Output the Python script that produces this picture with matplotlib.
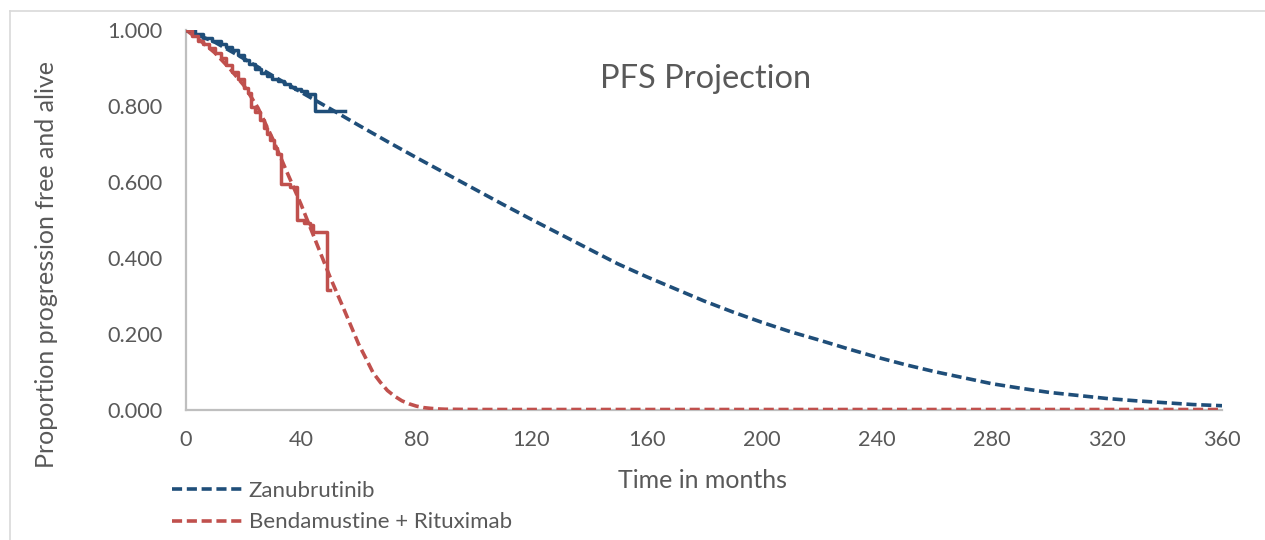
import numpy as np
import matplotlib
matplotlib.use('Agg')
import matplotlib.pyplot as plt
from matplotlib.lines import Line2D

plt.rcParams['font.family'] = ['Lato', 'DejaVu Sans']

# Modelled (projected) survival, months vs proportion
proj_months = [0, 10, 20, 30, 40, 50, 60, 70, 80, 90, 100, 110, 120, 130, 140, 150,
               160, 170, 180, 190, 200, 210, 220, 230, 240, 250, 260, 270, 280, 290,
               300, 310, 320, 330, 340, 350, 360]
zanu_proj = [1.000, 0.968, 0.925, 0.880, 0.836, 0.793, 0.749, 0.706, 0.664, 0.623,
             0.582, 0.541, 0.501, 0.462, 0.423, 0.384, 0.350, 0.318, 0.286, 0.257,
             0.230, 0.205, 0.183, 0.160, 0.138, 0.118, 0.100, 0.084, 0.068, 0.056,
             0.045, 0.037, 0.029, 0.023, 0.018, 0.013, 0.010]

br_months = [0, 5, 10, 15, 20, 25, 30, 35, 40, 45, 50, 55, 60, 62.5, 65, 67.5, 70,
             72.5, 75, 77.5, 80, 82.5, 85, 87.5, 90, 100, 120, 160, 200, 240, 280,
             320, 360]
br_proj = [1.000, 0.972, 0.940, 0.900, 0.855, 0.795, 0.715, 0.627, 0.540, 0.445, 0.350,
           0.262, 0.172, 0.135, 0.097, 0.072, 0.050, 0.035, 0.023, 0.015, 0.009, 0.005,
           0.003, 0.0015, 0.0007, 0.0, 0.0, 0.0, 0.0, 0.0, 0.0, 0.0, 0.0]

# Observed Kaplan-Meier steps
zanu_km_t = [0, 3, 6, 9, 12, 14, 16, 18, 20, 22, 24, 26, 28, 30, 32, 34, 36, 38, 40,
             42, 44.8, 55.2]
zanu_km_s = [1.000, 0.990, 0.980, 0.972, 0.962, 0.955, 0.948, 0.935, 0.922, 0.910,
             0.898, 0.888, 0.880, 0.872, 0.865, 0.858, 0.851, 0.845, 0.838, 0.832,
             0.787, 0.787]

br_km_t = [0, 2, 4, 6, 8, 10, 12, 14, 16, 18, 20, 21.5, 22.5, 24, 25.7, 27, 28, 29.2,
           30.5, 31.5, 33.0, 36.1, 38.5, 38.7, 41, 43.1, 44.2, 49.0, 50.2]
br_km_s = [1.000, 0.985, 0.972, 0.962, 0.952, 0.940, 0.926, 0.908, 0.890, 0.870,
           0.848, 0.835, 0.797, 0.785, 0.762, 0.742, 0.725, 0.710, 0.690, 0.672,
           0.595, 0.587, 0.569, 0.499, 0.492, 0.485, 0.468, 0.314, 0.314]

x_ticks = [0, 40, 80, 120, 160, 200, 240, 280, 320, 360]
y_ticks = [0.0, 0.2, 0.4, 0.6, 0.8, 1.0]

BLUE = '#1F4E79'
RED = '#C0504D'
TEXT = '#595959'
GRID = '#BFBFBF'

fig = plt.figure(figsize=(12.65, 5.4), dpi=100, facecolor='white')
ax = fig.add_axes([186 / 1265, 1 - 409.5 / 540, (1222 - 186) / 1265, 379.5 / 540])

dash = (2.8, 1.3)
ax.plot(proj_months, zanu_proj, color=BLUE, lw=2.6, dashes=dash, zorder=3)
ax.plot(br_months, br_proj, color=RED, lw=2.6, dashes=dash, zorder=3)
ax.plot(zanu_km_t, zanu_km_s, color=BLUE, lw=2.5, drawstyle='steps-post', zorder=4)
ax.plot(br_km_t, br_km_s, color=RED, lw=2.5, drawstyle='steps-post', zorder=4)

ax.set_xlim(0, 360)
ax.set_ylim(0, 1.0)
ax.set_xticks(x_ticks)
ax.set_yticks(y_ticks)
ax.set_yticklabels([f'{v:.3f}' for v in y_ticks])
ax.tick_params(length=0, labelsize=15.6, colors=TEXT)
ax.tick_params(axis='x', pad=15)
ax.tick_params(axis='y', pad=17)
for side in ['top', 'right']:
    ax.spines[side].set_visible(False)
for side in ['left', 'bottom']:
    ax.spines[side].set_color(GRID)
    ax.spines[side].set_linewidth(1.6)

ax.text((600 - 186) / 1036, 0.87, 'PFS Projection', transform=ax.transAxes,
        fontsize=23.5, color=TEXT, ha='left', va='center')

fig.text(703 / 1265, 1 - 481 / 540, 'Time in months', fontsize=18, color=TEXT,
         ha='center', va='center')
fig.text(47 / 1265, 1 - 264 / 540, 'Proportion progression free and alive',
         fontsize=18, color=TEXT, rotation=90, ha='center', va='center')

handles = [Line2D([], [], color=BLUE, lw=2.6, dashes=dash),
           Line2D([], [], color=RED, lw=2.6, dashes=dash)]
fig.legend(handles, ['Zanubrutinib', 'Bendamustine + Rituximab'],
           loc='upper left', bbox_to_anchor=(163 / 1265, 1 - 472 / 540),
           frameon=False, fontsize=16, labelcolor=TEXT, handlelength=3.15,
           handletextpad=0.3, labelspacing=0.52, borderaxespad=0)

# outer chart frame
fig.add_artist(Line2D([10 / 1265, 10 / 1265], [0, 1 - 11 / 540],
                      transform=fig.transFigure, color='#D9D9D9', lw=1.2))
fig.add_artist(Line2D([10 / 1265, 1], [1 - 11 / 540, 1 - 11 / 540],
                      transform=fig.transFigure, color='#D9D9D9', lw=1.2))

fig.savefig('out.png', dpi=100, facecolor='white')
